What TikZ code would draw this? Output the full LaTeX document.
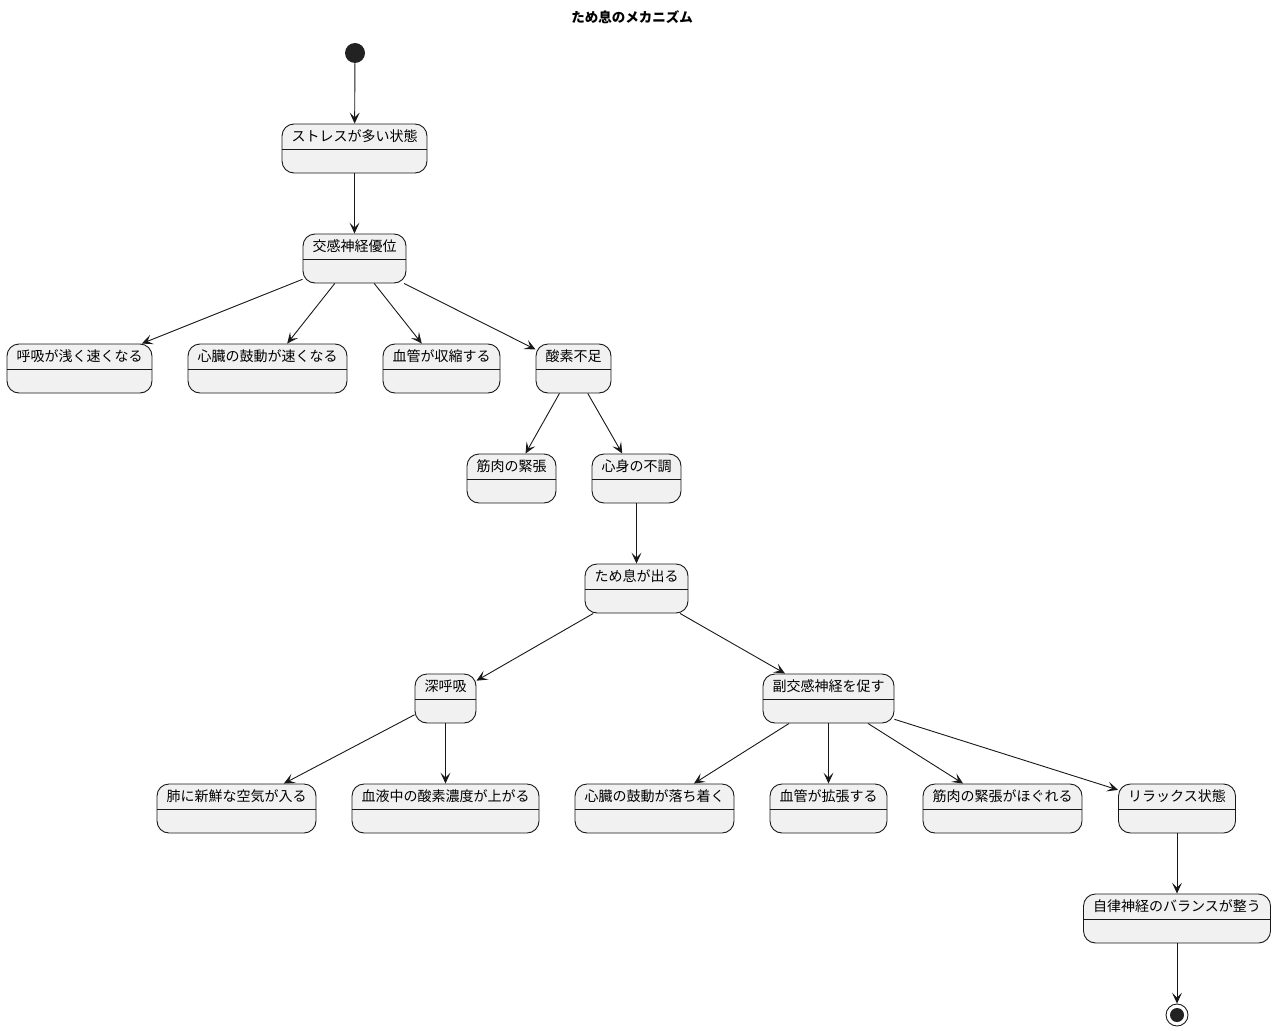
\documentclass[tikz,border=0pt]{standalone}
\usepackage{fontspec}
\newfontfamily\cjk{Noto Sans CJK JP}
\usetikzlibrary{arrows.meta}
\definecolor{boxfill}{HTML}{F1F1F1}
\definecolor{linec}{HTML}{181818}
\definecolor{dotc}{HTML}{222222}

\begin{document}
\begin{tikzpicture}[x=1pt, y=-1pt,
    state/.style={rectangle, draw=linec, fill=boxfill, rounded corners=12pt, line width=0.9pt,
      minimum height=49pt, inner xsep=0pt, inner ysep=0pt, text height=17pt, text depth=32pt,
      font=\cjk\fontsize{14}{17}\selectfont,
      path picture={\draw[linec, line width=0.9pt]
        ([yshift=-25pt]path picture bounding box.north west) --
        ([yshift=-25pt]path picture bounding box.north east);}},
    startdot/.style={circle, fill=dotc, minimum size=20pt, inner sep=0pt},
    enddot/.style={circle, draw=linec, line width=0.9pt, minimum size=22pt, inner sep=0pt,
      path picture={\fill[dotc] (path picture bounding box.center) circle (7pt);}},
    arrow/.style={-{Stealth[length=11pt, width=10pt, inset=5pt]}, line width=0.9pt, linec},
    ttl/.style={font=\cjk\bfseries\fontsize{13.5}{16}\selectfont}
  ]
    \useasboundingbox (0,0) rectangle (1276,1030);

    \node[ttl] (title) at (632,17) {ため息のメカニズム};
    \node[startdot] (start) at (355,53) {};

    \node[state, minimum width=145pt] (stress)  at (354.5,148.5) {ストレスが多い状態};
    \node[state, minimum width=103pt] (symp)    at (354.5,258.5) {交感神経優位};

    \node[state, minimum width=145pt] (breath)  at (79.5,368.5)  {呼吸が浅く速くなる};
    \node[state, minimum width=159pt] (heart)   at (267.5,368.5) {心臓の鼓動が速くなる};
    \node[state, minimum width=117pt] (vaso)    at (441.5,368.5) {血管が収縮する};
    \node[state, minimum width=75pt]  (oxy)     at (573.5,368.5) {酸素不足};

    \node[state, minimum width=89pt]  (muscle)  at (511.5,478.5) {筋肉の緊張};
    \node[state, minimum width=89pt]  (mind)    at (636.5,478.5) {心身の不調};

    \node[state, minimum width=103pt] (sigh)    at (636.5,588.5) {ため息が出る};

    \node[state, minimum width=61pt]  (deep)    at (445.5,698.5) {深呼吸};
    \node[state, minimum width=131pt] (para)    at (828.5,698.5) {副交感神経を促す};

    \node[state, minimum width=159pt] (lung)    at (236.5,808.5) {肺に新鮮な空気が入る};
    \node[state, minimum width=187pt] (blood)   at (445.5,808.5) {血液中の酸素濃度が上がる};
    \node[state, minimum width=159pt] (calm)    at (654.5,808.5) {心臓の鼓動が落ち着く};
    \node[state, minimum width=117pt] (dilate)  at (828.5,808.5) {血管が拡張する};
    \node[state, minimum width=159pt] (loosen)  at (1002.5,808.5) {筋肉の緊張がほぐれる};
    \node[state, minimum width=117pt] (relax)   at (1177,808.5)  {リラックス状態};

    \node[state, minimum width=187pt] (balance) at (1177,918.5)  {自律神経のバランスが整う};
    \node[enddot] (stop) at (1177,1015) {};

    \draw[arrow] (start) -- (stress);
    \draw[arrow] (stress) -- (symp);
    \draw[arrow] (symp) -- (breath);
    \draw[arrow] (symp) -- (heart);
    \draw[arrow] (symp) -- (vaso);
    \draw[arrow] (symp) -- (oxy);
    \draw[arrow] (oxy) -- (muscle);
    \draw[arrow] (oxy) -- (mind);
    \draw[arrow] (mind) -- (sigh);
    \draw[arrow] (sigh) -- (deep);
    \draw[arrow] (sigh) -- (para);
    \draw[arrow] (deep) -- (lung);
    \draw[arrow] (deep) -- (blood);
    \draw[arrow] (para) -- (calm);
    \draw[arrow] (para) -- (dilate);
    \draw[arrow] (para) -- (loosen);
    \draw[arrow] (para) -- (relax);
    \draw[arrow] (relax) -- (balance);
    \draw[arrow] (balance) -- (stop);
  \end{tikzpicture}
\end{document}
